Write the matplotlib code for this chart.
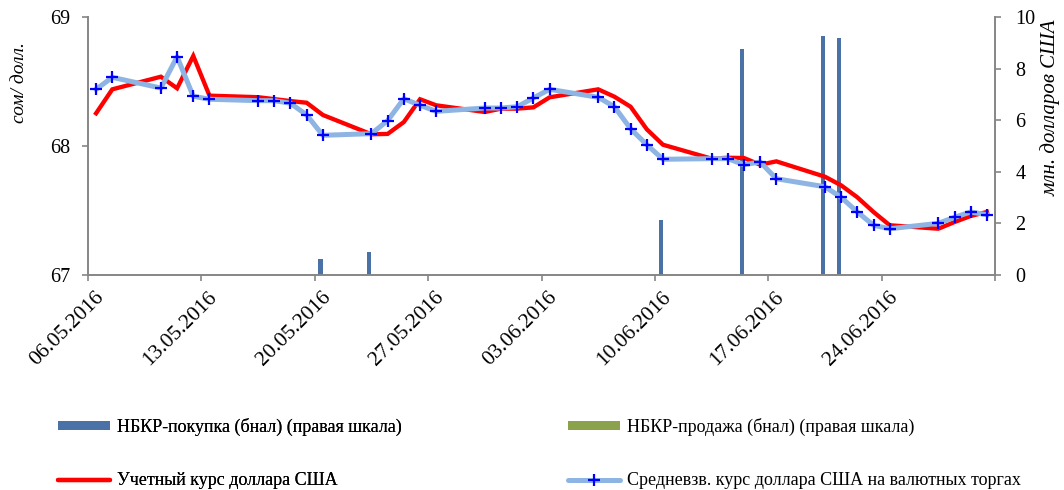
import matplotlib
matplotlib.use("Agg")
import matplotlib.pyplot as plt
from matplotlib.lines import Line2D
from matplotlib.patches import Patch
from matplotlib.transforms import ScaledTranslation
import datetime as dt

plt.rcParams['font.family'] = ['Liberation Serif', 'DejaVu Serif']

# ---- data ----
avg_dates = ["06.05", "07.05", "10.05", "11.05", "12.05", "13.05", "16.05", "17.05", "18.05",
             "19.05", "20.05", "23.05", "24.05", "25.05", "26.05", "27.05", "30.05", "31.05",
             "01.06", "02.06", "03.06", "06.06", "07.06", "08.06", "09.06", "10.06", "13.06",
             "14.06", "15.06", "16.06", "17.06", "20.06", "21.06", "22.06", "23.06", "24.06",
             "27.06", "28.06", "29.06", "30.06"]
avg_rate = [68.441, 68.534, 68.451, 68.694, 68.387, 68.364, 68.353, 68.353, 68.333,
            68.242, 68.084, 68.097, 68.198, 68.368, 68.317, 68.270, 68.296, 68.296,
            68.306, 68.374, 68.441, 68.379, 68.306, 68.135, 68.011, 67.898, 67.903,
            67.903, 67.856, 67.877, 67.747, 67.685, 67.603, 67.489, 67.386, 67.359,
            67.401, 67.448, 67.489, 67.468]
official_rate = [68.255, 68.441, 68.539, 68.449, 68.700, 68.392, 68.380, 68.365, 68.350,
                 68.337, 68.242, 68.092, 68.095, 68.187, 68.364, 68.317, 68.265, 68.291,
                 68.291, 68.301, 68.379, 68.441, 68.384, 68.306, 68.131, 68.011, 67.903,
                 67.910, 67.908, 67.856, 67.882, 67.763, 67.696, 67.603, 67.489, 67.386,
                 67.359, 67.411, 67.458, 67.489]
buy_dates = ["20.05", "23.05", "10.06", "15.06", "20.06", "21.06"]
buy_values = [0.61, 0.90, 2.13, 8.78, 9.29, 9.18]
sell_dates = []
sell_values = []
tick_dates = ["06.05", "13.05", "20.05", "27.05", "03.06", "10.06", "17.06", "24.06", "01.07"]
tick_labels = ["06.05.2016", "13.05.2016", "20.05.2016", "27.05.2016", "03.06.2016",
               "10.06.2016", "17.06.2016", "24.06.2016", ""]

labels = ["НБКР-покупка (бнал) (правая шкала)", "НБКР-продажа (бнал) (правая шкала)",
          "Учетный курс доллара США", "Средневзв. курс доллара США на валютных торгах"]


def to_dt(s):
    d, m = s.split(".")
    return dt.datetime(2016, int(m), int(d))


half = dt.timedelta(hours=12)
x_avg = [to_dt(s) + half for s in avg_dates]
x_buy = [to_dt(s) + half for s in buy_dates]
x_sell = [to_dt(s) + half for s in sell_dates]

# ---- colours ----
C_BUY = "#4A72A6"
C_SELL = "#8AA24B"
C_RED = "#FF0000"
C_LB = "#8DB4E2"
C_MK = "#0000FF"
C_AX = "#868686"

fig = plt.figure(figsize=(10.64, 4.90), dpi=100)
ax = fig.add_axes([88 / 1064, 1 - 275 / 490, (995 - 88) / 1064, (275 - 17.3) / 490])
ax2 = ax.twinx()

# bars on right axis
ax2.bar(x_buy, buy_values, width=-0.27, align='edge', color=C_BUY, zorder=2)
if x_sell:
    ax2.bar(x_sell, sell_values, width=0.27, align='edge', color=C_SELL, zorder=2)
ax2.set_ylim(0, 10)
ax2.set_yticks([0, 2, 4, 6, 8, 10])

# lines on left axis, above bars
ax.set_zorder(ax2.get_zorder() + 1)
ax.patch.set_visible(False)
ax.plot(x_avg, official_rate, color=C_RED, lw=3.1, solid_joinstyle='miter', zorder=3)
ax.plot(x_avg, avg_rate, color=C_LB, lw=3.6, marker='+', ms=9, mew=1.6,
        mec=C_MK, mfc=C_MK, zorder=4)
ax.set_ylim(67, 69)
ax.set_yticks([67, 68, 69])
ax.set_xlim(dt.datetime(2016, 5, 6), dt.datetime(2016, 7, 1))
ax.set_xticks([to_dt(s) for s in tick_dates])
ax.set_xticklabels(tick_labels, rotation=45, ha='right', va='center', rotation_mode='anchor')

for a in (ax, ax2):
    a.spines['top'].set_visible(False)
    for sp in ('left', 'right', 'bottom'):
        a.spines[sp].set_color(C_AX)
        a.spines[sp].set_linewidth(1.4)
ax.spines['right'].set_visible(False)
ax2.spines['left'].set_visible(False)
ax2.spines['bottom'].set_visible(False)

ax.tick_params(axis='y', direction='out', length=4.5, width=1.2, color=C_AX,
               labelsize=14.5, pad=8.5)
ax.tick_params(axis='x', direction='out', length=4.5, width=1.2, color=C_AX,
               labelsize=15.5, pad=9.5)
ax2.tick_params(axis='y', direction='out', length=4.5, width=1.2, color=C_AX,
                labelsize=14.5, pad=10)

off = ScaledTranslation(13 / 100, 0, fig.dpi_scale_trans)
for lab in ax.get_xticklabels():
    lab.set_transform(lab.get_transform() + off)

fig.text(19 / 1064, 1 - 83 / 490, "сом/ долл.", rotation=90, style='italic',
         fontsize=14, ha='center', va='center')
fig.text(1051 / 1064, 1 - 108 / 490, "млн. долларов США", rotation=90, style='italic',
         fontsize=15, ha='center', va='center')

# legend: two columns, placed manually
h_buy = Patch(facecolor=C_BUY, edgecolor='none')
h_sell = Patch(facecolor=C_SELL, edgecolor='none')
h_red = Line2D([], [], color=C_RED, lw=3.1, solid_capstyle='round')
h_avg = Line2D([], [], color=C_LB, lw=3.6, marker='+', ms=9, mew=1.6, mec=C_MK,
               solid_capstyle='round')

common = dict(frameon=False, fontsize=13, handlelength=2.9, handleheight=0.45,
              handletextpad=0.35, labelspacing=2.0, borderpad=0, borderaxespad=0,
              loc='upper left')
leg1 = fig.legend([h_buy, h_red], [labels[0], labels[2]],
                  bbox_to_anchor=(58 / 1064, 1 - 418 / 490), **common)
fig.add_artist(leg1)
leg2 = fig.legend([h_sell, h_avg], [labels[1], labels[3]],
                  bbox_to_anchor=(568 / 1064, 1 - 418 / 490), **common)

fig.savefig("out.png", dpi=100)
